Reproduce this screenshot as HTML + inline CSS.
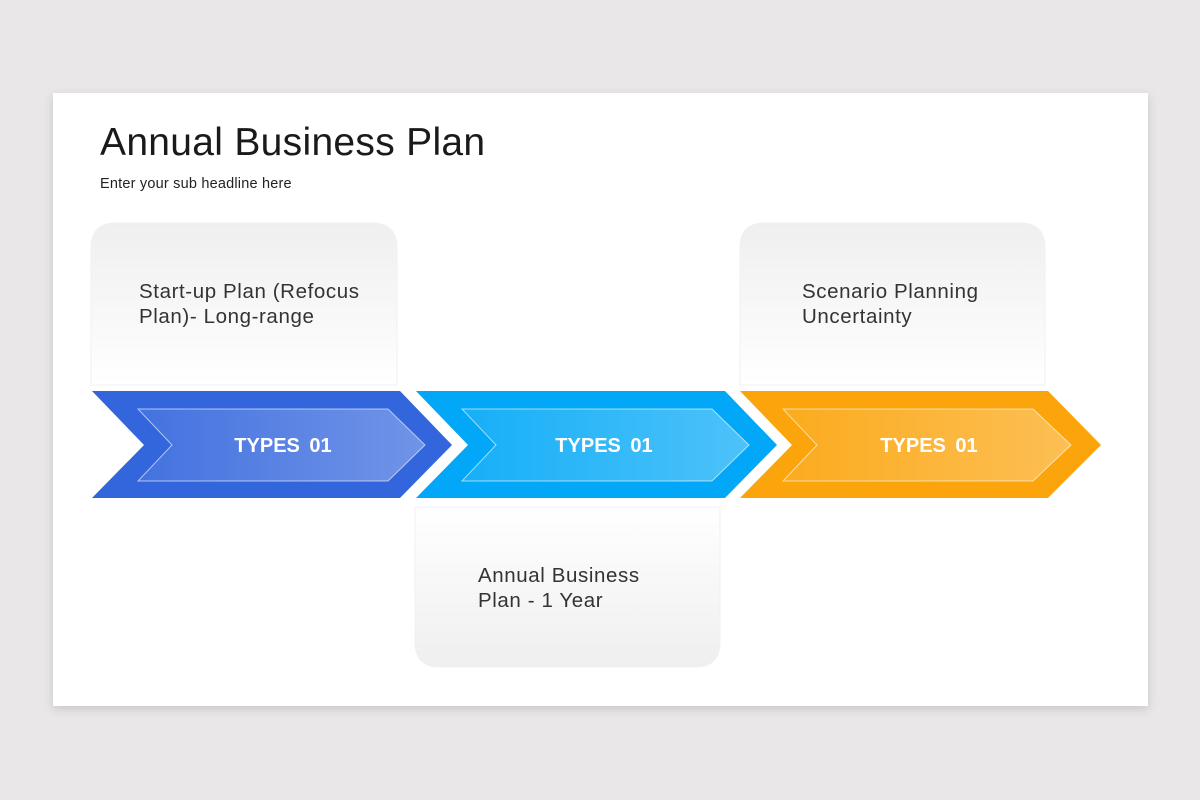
<!DOCTYPE html>
<html><head><meta charset="utf-8"><style>
html,body{margin:0;padding:0;width:1200px;height:800px;background:#e9e7e8;overflow:hidden}
svg{display:block}
text{font-family:"Liberation Sans",Arial,sans-serif}
</style></head><body>
<svg width="1200" height="800" viewBox="0 0 1200 800" xmlns="http://www.w3.org/2000/svg">
<defs>
<filter id="sh" x="-5%" y="-5%" width="110%" height="115%"><feDropShadow dx="0" dy="3" stdDeviation="5" flood-color="#000" flood-opacity="0.15"/></filter>
<linearGradient id="gt" x1="0" y1="0" x2="0" y2="1"><stop offset="0" stop-color="#efefef"/><stop offset="1" stop-color="#ffffff"/></linearGradient>
<linearGradient id="gb" x1="0" y1="0" x2="0" y2="1"><stop offset="0" stop-color="#ffffff"/><stop offset="1" stop-color="#efefef"/></linearGradient>
<linearGradient id="gi" x1="0" y1="0" x2="1" y2="0"><stop offset="0" stop-color="#fff" stop-opacity="0.08"/><stop offset="1" stop-color="#fff" stop-opacity="0.3"/></linearGradient>
</defs>
<rect x="53" y="93" width="1095" height="613" fill="#fff" filter="url(#sh)"/>
<text x="100" y="155" font-size="39" fill="#1a1a1a" letter-spacing="0.3">Annual Business Plan</text>
<text x="100" y="188" font-size="14.5" fill="#222" letter-spacing="0.2">Enter your sub headline here</text>

<path d="M91 385 V248 Q91 223 116 223 H372 Q397 223 397 248 V385 Z" fill="url(#gt)" stroke="#f0f0f0"/>
<path d="M740 385 V248 Q740 223 765 223 H1020 Q1045 223 1045 248 V385 Z" fill="url(#gt)" stroke="#f0f0f0"/>
<path d="M415 507 H720 V642 Q720 667 695 667 H440 Q415 667 415 642 Z" fill="url(#gb)" stroke="#f0f0f0"/>

<text font-size="20.5" fill="#333" letter-spacing="0.6"><tspan x="139" y="298">Start-up Plan (Refocus</tspan><tspan x="139" y="323">Plan)- Long-range</tspan></text>
<text font-size="20.5" fill="#333" letter-spacing="0.6"><tspan x="802" y="298">Scenario Planning</tspan><tspan x="802" y="323">Uncertainty</tspan></text>
<text font-size="20.5" fill="#333" letter-spacing="0.6"><tspan x="478" y="582">Annual Business</tspan><tspan x="478" y="607">Plan - 1 Year</tspan></text>

<g>
<polygon points="92,391 400,391 452,445 400,498 92,498 144,445" fill="#3366dd"/>
<polygon points="138,409 388,409 425,445 388,481 138,481 172,445" fill="url(#gi)" stroke="#fff" stroke-opacity="0.6" stroke-width="1"/>
<text x="283" y="452" font-size="20" font-weight="bold" fill="#fff" text-anchor="middle" word-spacing="4">TYPES 01</text>
</g>
<g>
<polygon points="416,391 725,391 777,445 725,498 416,498 468,445" fill="#02a8f7"/>
<polygon points="462,409 712,409 749,445 712,481 462,481 496,445" fill="url(#gi)" stroke="#fff" stroke-opacity="0.6" stroke-width="1"/>
<text x="604" y="452" font-size="20" font-weight="bold" fill="#fff" text-anchor="middle" word-spacing="4">TYPES 01</text>
</g>
<g>
<polygon points="740,391 1048,391 1101,445 1048,498 740,498 792,445" fill="#fba40b"/>
<polygon points="783,409 1033,409 1071,445 1033,481 783,481 817,445" fill="url(#gi)" stroke="#fff" stroke-opacity="0.6" stroke-width="1"/>
<text x="929" y="452" font-size="20" font-weight="bold" fill="#fff" text-anchor="middle" word-spacing="4">TYPES 01</text>
</g>
</svg>
</body></html>
